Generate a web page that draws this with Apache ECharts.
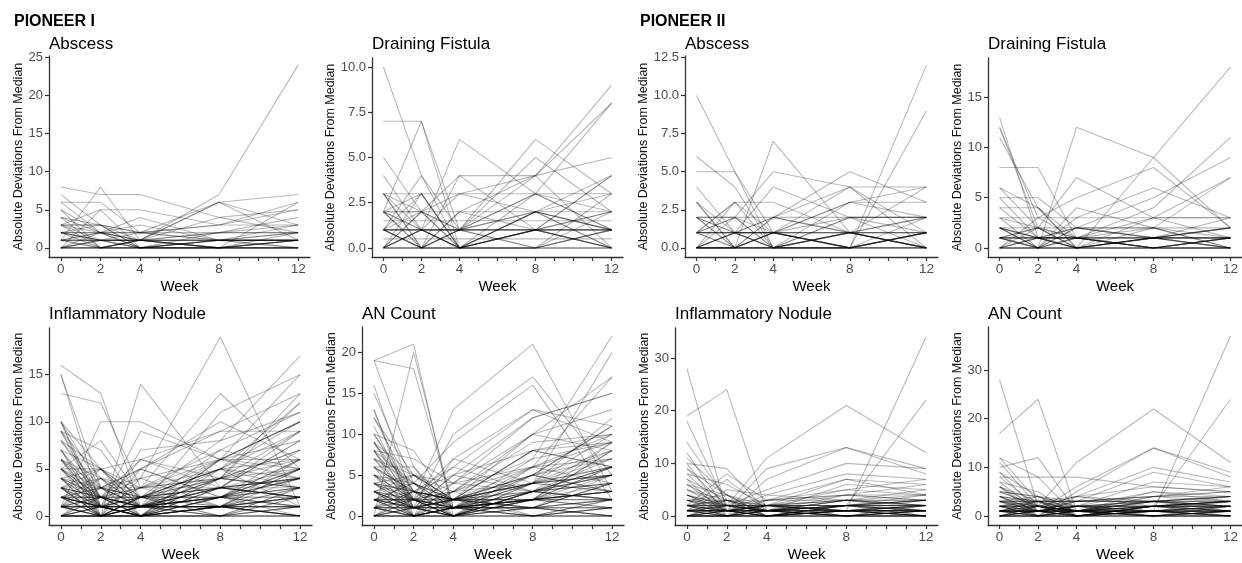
<!DOCTYPE html>
<html>
<head>
<meta charset="utf-8">
<script src="https://cdn.jsdelivr.net/npm/echarts@6/dist/echarts.min.js"></script>
<style>
  html, body { margin: 0; padding: 0; background: #fff; }
  #chart { width: 1242px; height: 563px; }
</style>
</head>
<body>
<div id="chart"></div>
<script>
// Visit weeks and x-axis tick positions
const weeks = [0, 2, 4, 8, 12];
const weekTicks = [0, 1, 2, 3, 4, 5, 6, 7, 8, 9, 10, 11, 12];

// Per-patient absolute deviations from the median, one row per patient: [wk0, wk2, wk4, wk8, wk12]
const pioneer1Abscess = [
  [2,1,1,7,24],[8,7,7,4,2],[7,3,0,1,1],[1,8,1,0,1],[6,6,2,1,1],[3,5,5,3,3],[6,2,0,1,2],
  [5,0,1,6,1],[3,2,2,6,7],[4,3,1,6,3],[1,2,4,1,1],[3,3,2,3,6],[2,1,1,4,5],[0,5,0,0,1],
  [4,0,0,0,1],[3,3,0,1,0],[2,2,1,0,0],[1,1,1,1,1],[1,1,1,1,1],[1,1,1,1,1],[0,0,0,0,0],
  [0,0,0,0,0],[0,0,0,0,0],[1,0,1,2,4],[2,0,1,1,3],[0,1,2,3,5],[3,1,1,2,2],[2,3,2,1,1],
  [1,0,0,2,3],[5,2,1,0,0],[0,1,0,1,2],[1,2,0,0,1],[2,1,0,1,0],[0,0,1,0,1],[1,1,0,0,0],
  [0,2,1,1,1],[3,0,1,0,2],[4,2,3,1,1],[2,2,2,2,2],[0,1,1,0,6]
];
const pioneer1Fistula = [
  [10,4,1,1,0],[7,7,0,2,1],[2,7,1,3,2],[5,2,1,0,1],[4,1,0,1,2],[1,4,0,2,1],[0,1,6,3,1],
  [2,2,4,4,5],[1,1,1,6,3],[0,0,1,5,2],[1,0,2,4,9],[0,1,1,3,8],[1,2,3,4,8],[3,3,3,3,3],
  [1.5,1.5,1.5,1.5,1.5],[0.5,0.5,0.5,0.5,0.5],[3,0,1,2,4],[2,0,0,1,4],[2,3,0,2,3],
  [1,3,0,0,2],[0,2,0,3,1],[3,1,0,0,1],[2,0,1,2,0],[1,0,4,1,0],[0,1,0,1,1],[1,1,1,1,1],
  [1,1,1,1,1],[1,1,1,1,1],[0,0,0,0,0],[0,0,0,0,0],[0,0,0,0,0],[2,2,2,2,2],[1,0,0,1,0],
  [0,1,0,0,1],[3,0,2,1,0],[0,3,0,2,0],[2,1,3,2,1],[0,2,1,4,0],[1,0,1,0,3],[2,1,0,1,2],
  [3,2,0,1,4]
];
const pioneer2Abscess = [
  [10,5,0,0,1],[6,4,0,1,0],[5,5,1,0,1],[4,1,0,1,0],[3,0,1,0,1],[3,1,0,2,0],[0,3,1,0,1],
  [1,3,3,1,2],[0,0,7,1,0],[1,2,5,4,1],[0,1,4,2,2],[0,0,2,5,3],[1,1,1,4,4],[2,1,2,4,0],
  [0,0,1,0,12],[0,1,0,0,9],[0,0,0,3,4],[2,2,2,2,2],[1,1,1,1,1],[1,1,1,1,1],[1,1,1,1,1],
  [0,0,0,0,0],[0,0,0,0,0],[0,0,0,0,0],[2,0,2,1,0],[2,1,0,2,2],[0,2,0,1,2],[1,0,1,3,2],
  [0,1,1,0,1],[3,0,1,0,0],[1,3,0,1,0],[0,0,1,2,1],[2,2,1,3,3],[1,2,0,0,2],[0,1,2,1,0],
  [2,0,0,0,1],[1,0,0,1,4]
];
const pioneer2Fistula = [
  [13,1,0,1,0],[12,2,0,0,1],[12,3,1,0,0],[11,4,0,1,1],[8,8,1,0,0],[6,4,0,1,0],[6,2,1,0,1],
  [5,5,2,1,0],[4,4,1,0,1],[4,1,0,2,0],[3,3,3,3,3],[1,0,12,9,2],[0,1,0,9,18],[1,2,7,3,1],
  [0,3,5,8,2],[0,0,3,6,3],[1,0,1,4,11],[0,1,2,5,9],[2,1,1,3,7],[0,0,4,2,7],[2,0,0,3,3],
  [2,2,2,2,2],[2,1,2,2,0],[1,1,1,1,1],[1,1,1,1,1],[1,1,1,1,1],[1,1,1,1,1],[0,0,0,0,0],
  [0,0,0,0,0],[0,0,0,0,0],[2,0,1,0,1],[3,2,0,1,2],[2,1,0,0,0],[1,0,2,1,0],[0,2,0,1,2],
  [1,2,1,0,1],[0,1,1,2,1],[2,0,2,1,2],[5,1,0,1,3],[3,0,1,0,1],[1,0,0,1,2]
];
const pioneer1Nodule = [
  [16,13,1,2,4],[13,12,3,5,3],[15,1,0,4,6],[15,3,2,1,0],[10,5,1,3,2],[10,0,4,6,5],
  [9,2,0,5,4],[9,7,1,2,3],[8,3,0,1,2],[7,0,2,5,1],[7,5,6,4,3],[6,1,0,2,5],[6,4,3,6,8],
  [5,8,2,1,0],[5,0,1,3,4],[5,5,0,2,6],[5,2,1,0,3],[4,1,0,3,2],[4,3,5,2,1],[4,0,1,1,5],
  [3,2,0,4,3],[3,5,2,0,1],[3,1,1,2,0],[3,0,0,1,2],[2,3,1,2,4],[2,1,0,0,1],[2,0,2,3,2],
  [2,4,1,1,0],[1,10,10,6,4],[1,0,14,3,2],[4,2,4,19,1],[2,1,3,13,5],[3,2,1,11,15],
  [1,3,5,10,6],[0,2,6,9,9],[1,1,9,6,10],[0,0,7,8,17],[2,1,0,6,15],[1,0,2,4,13],
  [0,1,1,5,12],[1,2,3,7,11],[0,0,1,6,10],[2,1,2,5,9],[1,0,0,3,8],[0,2,1,4,7],[3,0,2,6,6],
  [0,1,0,2,6],[1,1,2,3,5],[0,0,1,1,5],[2,2,0,1,4],[1,1,1,1,1],[1,1,1,1,1],[1,1,1,1,1],
  [0,0,0,0,0],[0,0,0,0,0],[0,0,0,0,0],[0,0,0,0,0],[2,2,2,2,2],[2,2,2,2,2],[3,3,3,3,3],
  [1,0,1,0,1],[0,1,0,1,0],[2,0,1,0,3],[1,2,0,2,1],[0,1,2,0,2],[4,1,0,1,3],[3,4,1,3,2],
  [2,3,4,1,0],[1,4,0,0,2],[0,3,2,2,1],[5,1,3,4,5],[4,5,2,3,4],[6,2,1,4,3],[1,5,3,1,2],
  [0,0,5,2,3],[2,1,1,7,5],[3,0,0,2,4],[1,2,1,3,2],[10,1,0,1,0],[0,0,0,1,3],
  [8,2,1,3,9],[9,4,2,5,10],[10,3,1,4,12],[7,1,0,6,10],[6,3,2,8,11],[5,2,5,9,13],
  [8,5,1,2,7],[9,1,6,3,8],[7,2,2,4,9],[6,0,1,1,6],[5,1,2,3,4],[4,2,1,2,3],[3,1,0,1,2],
  [2,0,1,1,1],[5,3,1,2,5],[6,1,0,3,4],[4,0,2,5,6],[3,2,3,4,7],[2,1,1,2,5],[1,0,0,1,2]
];
const pioneer1AnCount = [
  [19,21,0,3,5],[19,18,1,2,4],[19,6,0,4,8],[0,20,1,3,6],[16,2,0,5,3],[15,4,1,2,9],
  [13,1,0,3,2],[12,5,2,1,4],[10,3,0,4,6],[10,8,1,5,3],[9,2,3,0,2],[8,0,1,2,5],[8,7,4,6,7],
  [7,5,2,1,0],[6,6,1,3,4],[6,2,7,4,5],[5,1,0,2,3],[5,4,2,3,6],[4,3,1,1,2],[4,0,0,2,1],
  [4,5,3,4,3],[3,2,1,0,1],[3,1,5,3,2],[2,0,1,2,3],[2,3,0,1,0],[2,1,2,4,5],[1,2,13,21,3],
  [3,1,10,17,5],[2,4,9,16,2],[1,0,7,13,11],[0,2,6,13,9],[3,1,5,12,15],[2,2,4,10,17],
  [1,0,3,10,13],[0,1,2,8,10],[4,2,1,7,22],[1,3,2,4,20],[2,0,0,6,17],[0,1,1,5,11],
  [3,2,0,3,9],[1,1,2,4,10],[0,0,1,2,8],[2,1,3,6,9],[1,0,2,5,7],[0,2,1,3,6],[5,0,1,4,6],
  [1,1,1,1,1],[1,1,1,1,1],[1,1,1,1,1],[2,2,2,2,2],[2,2,2,2,2],[0,0,0,0,0],[0,0,0,0,0],
  [0,0,0,0,0],[0,0,0,0,0],[1,0,1,0,1],[0,1,0,1,0],[2,0,1,0,2],[1,2,0,2,1],[0,1,2,1,0],
  [3,0,1,1,4],[2,4,1,2,3],[6,3,2,4,5],[4,1,2,6,4],[5,3,6,3,2],[3,5,1,2,6],[0,0,4,3,5],
  [1,3,2,8,6],[2,1,0,3,2],[7,2,1,2,3],[8,4,0,1,2],[13,0,1,0,1],[11,1,0,2,3],[0,3,1,4,3],
  [4,2,0,1,5],[3,4,2,0,1],[1,5,2,1,4],[9,1,2,10,8],
  [9,3,2,5,11],[10,2,1,6,10],[8,1,3,7,9],[7,4,2,5,8],[6,0,1,4,12],[5,2,0,3,7],
  [4,1,2,8,9],[9,5,4,12,15],[3,0,1,2,6],[2,1,0,3,5],[6,3,2,4,7],[5,2,1,3,4],[4,3,2,2,3],
  [3,1,1,1,2],[12,3,5,8,6],[7,1,0,2,8],[8,2,3,9,10],[1,0,2,3,4]
];
const pioneer2Nodule = [
  [28,1,0,1,2],[19,24,1,2,3],[18,2,1,0,1],[14,3,0,2,1],[12,1,2,1,0],[11,4,1,3,2],
  [10,9,1,2,3],[10,0,0,1,2],[9,4,0,2,1],[9,2,1,0,1],[8,6,2,1,3],[8,1,0,1,0],[7,3,1,2,4],
  [7,0,2,1,1],[6,2,1,3,2],[6,4,0,1,2],[5,1,1,0,1],[5,3,2,2,3],[4,2,0,1,0],[4,0,1,2,1],
  [4,1,2,3,2],[3,2,1,0,1],[3,1,0,2,3],[3,0,1,1,0],[2,1,2,1,2],[2,0,0,1,1],[2,3,1,2,0],
  [1,2,11,21,12],[0,1,9,13,9],[1,0,7,13,8],[0,2,5,10,9],[1,1,4,8,7],[0,0,3,7,4],
  [2,1,2,7,6],[1,0,1,6,5],[0,1,3,5,4],[1,2,2,4,3],[0,0,1,1,34],[1,1,0,2,22],[2,8,3,4,6],
  [1,5,4,3,5],[0,3,2,5,7],[1,7,1,3,4],[0,0,2,3,3],[1,1,1,1,1],[1,1,1,1,1],[1,1,1,1,1],
  [1,1,1,1,1],[2,2,2,2,2],[2,2,2,2,2],[0,0,0,0,0],[0,0,0,0,0],[0,0,0,0,0],[0,0,0,0,0],
  [0,0,0,0,0],[3,3,3,3,3],[1,0,1,0,1],[0,1,0,1,0],[2,0,1,0,2],[1,2,0,2,1],[0,1,2,1,0],
  [3,1,0,1,2],[2,1,1,3,1],[1,3,1,2,2],[4,2,1,2,3],[2,0,2,0,1],[1,1,0,1,2],[0,2,1,0,1],
  [5,2,3,4,4],[6,1,2,3,2],[3,4,2,1,0],[2,2,1,4,3],[1,0,0,2,0],[0,1,1,2,2],[2,3,0,1,1],
  [4,1,1,0,2],[3,2,2,2,1],[1,1,2,0,0],[0,0,1,1,1],[2,1,0,0,0]
];
const pioneer2AnCount = [
  [28,2,0,1,2],[17,24,1,3,2],[12,8,0,2,3],[12,3,1,1,2],[11,2,0,2,1],[10,12,1,3,4],
  [9,4,1,2,3],[9,1,0,1,0],[8,8,8,6,5],[8,2,1,0,1],[7,5,0,2,3],[7,1,2,1,2],[6,3,1,2,4],
  [6,0,1,0,1],[5,2,1,3,2],[5,4,0,1,3],[4,1,1,2,1],[4,3,2,3,4],[4,0,0,1,0],[3,2,1,0,1],
  [3,1,0,2,2],[3,0,1,1,1],[2,1,2,2,3],[2,3,0,1,0],[2,0,1,0,2],[1,2,11,22,11],[0,1,6,14,9],
  [1,0,5,14,8],[0,2,4,10,7],[1,1,3,9,6],[2,1,2,7,6],[0,0,4,6,5],[1,0,2,5,4],[0,1,3,4,5],
  [1,2,1,5,3],[0,0,1,1,37],[1,1,0,2,24],[2,4,3,4,6],[1,3,4,3,4],[0,2,1,4,5],[1,1,1,1,1],
  [1,1,1,1,1],[1,1,1,1,1],[1,1,1,1,1],[2,2,2,2,2],[2,2,2,2,2],[2,2,2,2,2],[0,0,0,0,0],
  [0,0,0,0,0],[0,0,0,0,0],[0,0,0,0,0],[0,0,0,0,0],[3,3,3,3,3],[3,3,3,3,3],[1,0,1,0,1],
  [0,1,0,1,0],[2,0,1,0,2],[1,2,0,2,1],[0,1,2,1,0],[3,1,0,1,2],[2,1,1,3,1],[1,3,1,2,2],
  [4,2,1,2,3],[2,0,2,0,1],[1,1,0,1,2],[0,2,1,0,1],[5,2,3,4,4],[6,1,2,3,2],[3,4,2,1,0],
  [2,2,1,4,3],[4,1,2,3,4],[3,2,4,2,3],[1,0,0,2,0],[0,1,1,2,2],[2,3,0,1,1],[5,4,2,2,3],
  [4,3,3,3,2],[1,1,2,0,0],[6,2,0,2,1]
];

// Y-axis tick labels for each panel
const yTicksAbscess1 = [0, 5, 10, 15, 20, 25];
const yTicksFistula1 = [0, 2.5, 5, 7.5, 10];
const yTicksAbscess2 = [0, 2.5, 5, 7.5, 10, 12.5];
const yTicksFistula2 = [0, 5, 10, 15];
const yTicksNodule1 = [0, 5, 10, 15];
const yTicksAnCount1 = [0, 5, 10, 15, 20];
const yTicksNodule2 = [0, 10, 20, 30];
const yTicksAnCount2 = [0, 10, 20, 30];

const panelTitles = ['Abscess', 'Draining Fistula', 'Abscess', 'Draining Fistula',
  'Inflammatory Nodule', 'AN Count', 'Inflammatory Nodule', 'AN Count'];

// Panel layout (pixel rectangles) and label styling
const panels = [
  { rows: pioneer1Abscess, ticks: yTicksAbscess1, decimals: 0, rect: { left: 49, top: 56, width: 261, height: 201 }, nameGap: 22 },
  { rows: pioneer1Fistula, ticks: yTicksFistula1, decimals: 1, rect: { left: 372, top: 58, width: 251, height: 199 }, nameGap: 33 },
  { rows: pioneer2Abscess, ticks: yTicksAbscess2, decimals: 1, rect: { left: 685, top: 56, width: 253, height: 201 }, nameGap: 33 },
  { rows: pioneer2Fistula, ticks: yTicksFistula2, decimals: 0, rect: { left: 988, top: 58, width: 261, height: 199 }, nameGap: 23 },
  { rows: pioneer1Nodule, ticks: yTicksNodule1, decimals: 0, rect: { left: 49, top: 328, width: 263, height: 200 }, nameGap: 22 },
  { rows: pioneer1AnCount, ticks: yTicksAnCount1, decimals: 0, rect: { left: 362, top: 327, width: 262, height: 201 }, nameGap: 22 },
  { rows: pioneer2Nodule, ticks: yTicksNodule2, decimals: 0, rect: { left: 675, top: 328, width: 263, height: 200 }, nameGap: 22 },
  { rows: pioneer2AnCount, ticks: yTicksAnCount2, decimals: 0, rect: { left: 988, top: 327, width: 261, height: 201 }, nameGap: 23 }
];

const FONT = '"Liberation Sans", Arial, sans-serif';
const AXIS_COLOR = '#333';
const TICK_TEXT = '#4d4d4d';
const LINE_COLOR = 'rgba(0,0,0,0.28)';

const grid = [], xAxis = [], yAxis = [], series = [];
const title = [
  { text: 'PIONEER I', left: 14, top: 14, padding: 0, textStyle: { fontFamily: FONT, fontSize: 16, fontWeight: 'bold', color: '#000' } },
  { text: 'PIONEER II', left: 640, top: 14, padding: 0, textStyle: { fontFamily: FONT, fontSize: 16, fontWeight: 'bold', color: '#000' } }
];

panels.forEach((p, i) => {
  grid.push(Object.assign({ containLabel: false }, p.rect));
  title.push({
    text: panelTitles[i], left: p.rect.left, top: i < 4 ? 36 : 306, padding: 0,
    textStyle: { fontFamily: FONT, fontSize: 17, fontWeight: 'normal', color: '#000' }
  });

  // expand the data range by 5% on both ends
  const dataMax = Math.max(...p.rows.flat());
  const span = weeks[weeks.length - 1] - weeks[0];

  xAxis.push({
    type: 'value', gridIndex: i,
    min: weeks[0] - 0.05 * span, max: weeks[weeks.length - 1] + 0.05 * span,
    name: 'Week', nameLocation: 'middle', nameGap: 22,
    nameTextStyle: { fontFamily: FONT, fontSize: 15, color: '#000' },
    axisLine: { onZero: false, lineStyle: { color: AXIS_COLOR, width: 1.3 } },
    axisTick: { customValues: weekTicks, length: 4, lineStyle: { color: AXIS_COLOR, width: 1.2 } },
    axisLabel: { customValues: weeks, margin: 5, fontFamily: FONT, fontSize: 13.5, color: TICK_TEXT },
    splitLine: { show: false }
  });

  yAxis.push({
    type: 'value', gridIndex: i,
    min: -0.05 * dataMax, max: 1.05 * dataMax,
    name: 'Absolute Deviations From Median', nameLocation: 'middle', nameRotate: 90, nameGap: p.nameGap,
    nameTextStyle: { fontFamily: FONT, fontSize: 12.5, color: '#111' },
    axisLine: { show: true, onZero: false, lineStyle: { color: AXIS_COLOR, width: 1.3 } },
    axisTick: { show: true, customValues: p.ticks, length: 4, lineStyle: { color: AXIS_COLOR, width: 1.2 } },
    axisLabel: {
      customValues: p.ticks, margin: 6, fontFamily: FONT, fontSize: 13, color: TICK_TEXT,
      formatter: v => Number(v).toFixed(p.decimals)
    },
    splitLine: { show: false }
  });

  p.rows.forEach(r => {
    series.push({
      type: 'line', xAxisIndex: i, yAxisIndex: i,
      data: weeks.map((w, k) => [w, r[k]]),
      symbol: 'none', silent: true, clip: true,
      lineStyle: { color: LINE_COLOR, width: 1.1 }
    });
  });
});

const chart = echarts.init(document.getElementById('chart'), null, { renderer: 'canvas' });
chart.setOption({
  animation: false,
  backgroundColor: '#fff',
  title, grid, xAxis, yAxis, series,
  tooltip: { show: false }
});
</script>
</body>
</html>
